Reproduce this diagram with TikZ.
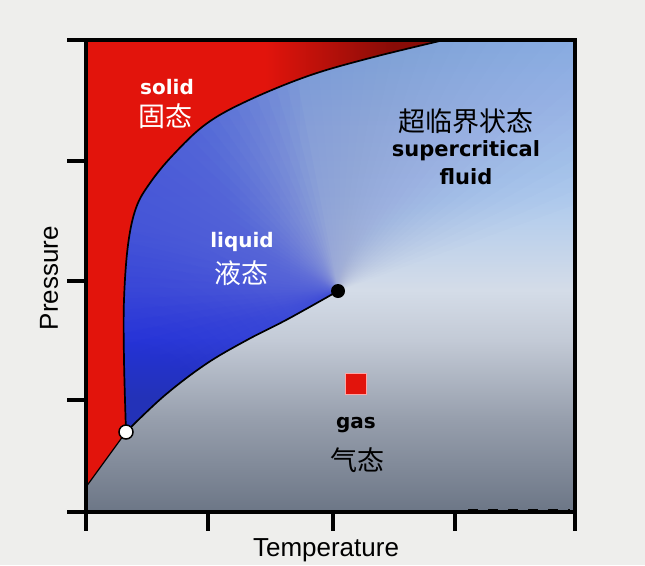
\documentclass[tikz,border=0pt]{standalone}
\usepackage{fontspec}
\newfontfamily\labfont{DejaVu Sans}
\newfontfamily\axfont{Liberation Sans}
\newfontfamily\cjk{Noto Sans CJK SC}
\usetikzlibrary{calc}

\definecolor{pagegray}{RGB}{238,238,236}
\definecolor{solidred}{RGB}{226,20,12}
\definecolor{liqblue}{RGB}{35,50,215}
\definecolor{gasdark}{RGB}{108,118,134}
\definecolor{gasmid}{RGB}{150,158,172}
\definecolor{gaslight}{RGB}{195,202,214}
\definecolor{fogwhite}{RGB}{212,220,232}
\definecolor{skyblue}{RGB}{176,203,237}
\definecolor{topblue}{RGB}{145,185,234}

% vertical colour run of the whole plot: grey gas below, light blue fluid on top
\pgfdeclareverticalshading{phasebg}{100bp}{color(0bp)=(gasdark); color(25bp)=(gasdark); color(34.7bp)=(gasmid); color(43.2bp)=(gaslight); color(48.5bp)=(fogwhite); color(58bp)=(skyblue); color(75bp)=(topblue); color(100bp)=(topblue)}
% red of the solid, darker towards its right tip
\pgfdeclarehorizontalshading{redfade}{100bp}{color(0bp)=(solidred); color(50bp)=(solidred); color(68bp)=(solidred!60!black); color(100bp)=(solidred!60!black)}

% phase boundaries (the leading -- lets them sit inside a path)
\def\meltcurve{-- plot[smooth, tension=0.6] coordinates {(126,432) (124,360) (124,300) (128,245) (136,208) (150,183) (173,155) (206,124) (247,101) (308,76) (370,58) (444,40)}}
\def\vapcurve{-- plot[smooth, tension=0.6] coordinates {(126,432) (164,396) (206,364) (247,340) (288,319) (338,291)}}
\def\vapback{-- plot[smooth, tension=0.6] coordinates {(338,291) (288,319) (247,340) (206,364) (164,396) (126,432)}}

\begin{document}
\begin{tikzpicture}[x=1pt, y=-1pt,
    phaseline/.style={black, line width=1.7pt},
    tickmark/.style={line width=4.5pt},
    phaselabel/.style={font=\labfont\bfseries\fontsize{20}{24}\selectfont},
    cjklabel/.style={font=\cjk\fontsize{27}{32}\selectfont},
    axislabel/.style={font=\axfont\fontsize{26}{30}\selectfont},
    gasmark/.style={fill=solidred, draw=red!35!white, line width=0.8pt, minimum size=21pt, inner sep=0pt}]

    \useasboundingbox (0,0) rectangle (645,565);
    \fill[pagegray] (0,0) rectangle (645,565);

    % special points
    \coordinate (triple) at (126,432);
    \coordinate (crit) at (338,291);
    \coordinate (subl) at (86,487);

    % background of the plot
    \shade[shading=phasebg] (86,40) rectangle (575,512);

    % deep blue of the liquid: fan of thin wedges round the critical point,
    % strips from the left and a darker patch at the triple point
    \begin{scope}
        \clip (triple) \meltcurve -- (575,40) -- (575,291) -- (crit) \vapback -- cycle;
        \begin{scope}[shift={(crit)}, y=1pt]
            \foreach \a in {20,23,...,98}
                \fill[liqblue, opacity=0.007] (0,0) -- (\a:1500) -- ({(\a+250)/2}:1500) -- (250:1500) -- cycle;
            \foreach \a in {101,104,...,215}
                \fill[liqblue, opacity=0.03] (0,0) -- (\a:1500) -- ({(\a+250)/2}:1500) -- (250:1500) -- cycle;
        \end{scope}
        \foreach \xs in {130,140,...,300} \fill[liqblue, opacity=0.02] (86,40) rectangle (\xs,512);
        \foreach \r in {200,190,...,10} \fill[liqblue, opacity=0.025] (triple) circle (\r);
    \end{scope}

    % solid region
    \shade[shading=redfade] (subl) -- (triple) \meltcurve -- (86,40) -- cycle;

    % phase boundaries
    \draw[phaseline, line width=1.2pt] (subl) -- (triple);
    \draw[phaseline] (triple) \meltcurve;
    \draw[phaseline] (triple) \vapcurve;

    % frame and ticks
    \draw[line width=4.5pt] (86,40) rectangle (575,512);
    \foreach \y in {40,161,281,400,512} \draw[tickmark] (67,\y) -- (86,\y);
    \foreach \x in {86,208,333,455,575} \draw[tickmark] (\x,512) -- (\x,531);
    \draw[line width=2pt, dash pattern=on 10pt off 10pt] (468,509.5) -- (570,509.5);

    % triple point, critical point, sample
    \fill[black] (crit) circle (7);
    \draw[fill=white, line width=1.5pt] (triple) circle (7);
    \node[gasmark] (sample) at (356,384) {};

    % labels
    \node[phaselabel, text=white] (solidtxt) at (167,87) {solid};
    \node[cjklabel, text=white] (solidcn) at (165,116) {固态};
    \node[phaselabel, text=white] (liquidtxt) at (242,242) {liquid};
    \node[cjklabel, text=white] (liquidcn) at (241,273) {液态};
    \node[cjklabel] (supercn) at (466,121) {超临界状态};
    \node[phaselabel, font=\labfont\bfseries\fontsize{21}{24}\selectfont] (supertxt) at (466,151) {supercritical};
    \node[phaselabel, font=\labfont\bfseries\fontsize{21}{24}\selectfont] (fluidtxt) at (466,177) {fluid};
    \node[phaselabel] (gastxt) at (356,425) {gas};
    \node[cjklabel] (gascn) at (357,460) {气态};
    \node[axislabel, rotate=90] (ylab) at (49,278) {Pressure};
    \node[axislabel] (xlab) at (326,550) {Temperature};
\end{tikzpicture}
\end{document}
